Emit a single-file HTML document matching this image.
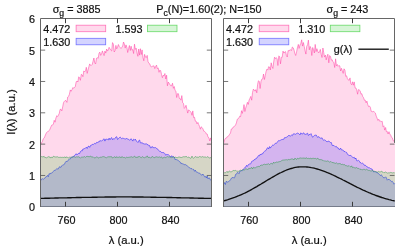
<!DOCTYPE html>
<html lang="en"><head><meta charset="utf-8"><title>I(λ) spectra</title>
<style>
html,body{margin:0;padding:0;background:#fff}
body{width:415px;height:249px;overflow:hidden}
svg{display:block;will-change:transform}
svg text{font-family:"Liberation Sans","DejaVu Sans",sans-serif;stroke:#1a1a1a;stroke-width:0.22px;paint-order:stroke fill}
</style></head><body>
<svg width="415" height="249" viewBox="0 0 415 249" font-family='Liberation Sans, DejaVu Sans, sans-serif' font-size="10.8" fill="#111">
<rect width="415" height="249" fill="#fff"/>
<path d="M40.0 206.5H212.0" stroke="#8c8c8c" stroke-width="1" fill="none"/>
<polygon points="41.0,207.0 41.0,144.5 40.7,144.5 41.5,142.8 42.4,141.5 43.2,138.9 44.1,138.2 44.9,136.3 45.8,134.1 46.6,132.6 47.5,131.7 48.3,131.5 49.1,130.5 50.0,129.2 50.8,127.1 51.7,125.2 52.5,125.1 53.4,124.0 54.2,120.3 55.1,122.2 55.9,118.1 56.8,115.7 57.6,116.5 58.4,115.3 59.3,113.3 60.1,109.4 61.0,109.3 61.8,110.9 62.7,106.9 63.5,102.7 64.4,101.3 65.2,100.5 66.0,100.7 66.9,102.4 67.7,97.0 68.6,96.3 69.4,94.3 70.3,89.9 71.1,91.3 72.0,89.7 72.8,87.6 73.7,88.1 74.5,87.6 75.3,86.5 76.2,81.7 77.0,81.0 77.9,82.0 78.7,76.8 79.6,77.8 80.4,80.3 81.3,74.3 82.1,74.9 82.9,76.7 83.8,70.9 84.6,71.9 85.5,70.9 86.3,67.3 87.2,73.4 88.0,70.0 88.9,66.7 89.7,63.9 90.6,65.4 91.4,65.3 92.2,64.5 93.1,61.1 93.9,58.0 94.8,63.0 95.6,64.0 96.5,58.2 97.3,57.7 98.2,58.4 99.0,53.4 99.8,52.1 100.7,55.4 101.5,54.1 102.4,50.9 103.2,53.2 104.1,55.6 104.9,51.1 105.8,53.1 106.6,49.0 107.5,51.1 108.3,49.8 109.1,47.3 110.0,48.9 110.8,50.2 111.7,51.0 112.5,42.6 113.4,44.2 114.2,52.0 115.1,50.5 115.9,45.4 116.7,48.9 117.6,47.0 118.4,44.5 119.3,46.6 120.1,47.4 121.0,48.5 121.8,47.4 122.7,46.0 123.5,42.0 124.4,44.1 125.2,48.1 126.0,44.9 126.9,47.5 127.7,52.5 128.6,48.6 129.4,45.5 130.3,50.5 131.1,46.2 132.0,50.2 132.8,49.6 133.6,53.5 134.5,44.2 135.3,49.4 136.2,48.2 137.0,52.9 137.9,56.3 138.7,49.0 139.6,55.1 140.4,48.7 141.3,54.5 142.1,49.9 142.9,57.3 143.8,60.8 144.6,54.4 145.5,57.2 146.3,57.7 147.2,55.4 148.0,61.5 148.9,63.4 149.7,63.8 150.5,65.9 151.4,67.0 152.2,66.3 153.1,66.3 153.9,65.7 154.8,68.6 155.6,66.6 156.5,65.1 157.3,68.6 158.2,67.9 159.0,72.3 159.8,70.1 160.7,70.7 161.5,74.5 162.4,77.7 163.2,75.3 164.1,75.9 164.9,73.5 165.8,79.0 166.6,75.2 167.4,85.8 168.3,82.0 169.1,83.5 170.0,84.4 170.8,85.8 171.7,85.8 172.5,83.2 173.4,88.3 174.2,86.5 175.1,90.5 175.9,91.2 176.7,97.5 177.6,93.6 178.4,93.7 179.3,98.4 180.1,98.5 181.0,100.2 181.8,95.6 182.7,102.8 183.5,103.5 184.3,108.4 185.2,107.4 186.0,105.3 186.9,109.2 187.7,113.1 188.6,109.9 189.4,110.4 190.3,111.4 191.1,112.4 192.0,115.3 192.8,110.9 193.6,117.6 194.5,117.2 195.3,121.1 196.2,121.3 197.0,123.9 197.9,122.4 198.7,124.5 199.6,126.6 200.4,129.2 201.2,126.8 202.1,127.6 202.9,128.8 203.8,131.2 204.6,131.4 205.5,132.3 206.3,133.9 207.2,134.0 208.0,137.1 208.9,137.8 209.7,140.9 210.5,137.9 211.7,142.6 211.0,142.6 211.0,207.0" fill="rgb(255,65,160)" fill-opacity="0.20"/>
<polyline points="40.7,144.5 41.5,142.8 42.4,141.5 43.2,138.9 44.1,138.2 44.9,136.3 45.8,134.1 46.6,132.6 47.5,131.7 48.3,131.5 49.1,130.5 50.0,129.2 50.8,127.1 51.7,125.2 52.5,125.1 53.4,124.0 54.2,120.3 55.1,122.2 55.9,118.1 56.8,115.7 57.6,116.5 58.4,115.3 59.3,113.3 60.1,109.4 61.0,109.3 61.8,110.9 62.7,106.9 63.5,102.7 64.4,101.3 65.2,100.5 66.0,100.7 66.9,102.4 67.7,97.0 68.6,96.3 69.4,94.3 70.3,89.9 71.1,91.3 72.0,89.7 72.8,87.6 73.7,88.1 74.5,87.6 75.3,86.5 76.2,81.7 77.0,81.0 77.9,82.0 78.7,76.8 79.6,77.8 80.4,80.3 81.3,74.3 82.1,74.9 82.9,76.7 83.8,70.9 84.6,71.9 85.5,70.9 86.3,67.3 87.2,73.4 88.0,70.0 88.9,66.7 89.7,63.9 90.6,65.4 91.4,65.3 92.2,64.5 93.1,61.1 93.9,58.0 94.8,63.0 95.6,64.0 96.5,58.2 97.3,57.7 98.2,58.4 99.0,53.4 99.8,52.1 100.7,55.4 101.5,54.1 102.4,50.9 103.2,53.2 104.1,55.6 104.9,51.1 105.8,53.1 106.6,49.0 107.5,51.1 108.3,49.8 109.1,47.3 110.0,48.9 110.8,50.2 111.7,51.0 112.5,42.6 113.4,44.2 114.2,52.0 115.1,50.5 115.9,45.4 116.7,48.9 117.6,47.0 118.4,44.5 119.3,46.6 120.1,47.4 121.0,48.5 121.8,47.4 122.7,46.0 123.5,42.0 124.4,44.1 125.2,48.1 126.0,44.9 126.9,47.5 127.7,52.5 128.6,48.6 129.4,45.5 130.3,50.5 131.1,46.2 132.0,50.2 132.8,49.6 133.6,53.5 134.5,44.2 135.3,49.4 136.2,48.2 137.0,52.9 137.9,56.3 138.7,49.0 139.6,55.1 140.4,48.7 141.3,54.5 142.1,49.9 142.9,57.3 143.8,60.8 144.6,54.4 145.5,57.2 146.3,57.7 147.2,55.4 148.0,61.5 148.9,63.4 149.7,63.8 150.5,65.9 151.4,67.0 152.2,66.3 153.1,66.3 153.9,65.7 154.8,68.6 155.6,66.6 156.5,65.1 157.3,68.6 158.2,67.9 159.0,72.3 159.8,70.1 160.7,70.7 161.5,74.5 162.4,77.7 163.2,75.3 164.1,75.9 164.9,73.5 165.8,79.0 166.6,75.2 167.4,85.8 168.3,82.0 169.1,83.5 170.0,84.4 170.8,85.8 171.7,85.8 172.5,83.2 173.4,88.3 174.2,86.5 175.1,90.5 175.9,91.2 176.7,97.5 177.6,93.6 178.4,93.7 179.3,98.4 180.1,98.5 181.0,100.2 181.8,95.6 182.7,102.8 183.5,103.5 184.3,108.4 185.2,107.4 186.0,105.3 186.9,109.2 187.7,113.1 188.6,109.9 189.4,110.4 190.3,111.4 191.1,112.4 192.0,115.3 192.8,110.9 193.6,117.6 194.5,117.2 195.3,121.1 196.2,121.3 197.0,123.9 197.9,122.4 198.7,124.5 199.6,126.6 200.4,129.2 201.2,126.8 202.1,127.6 202.9,128.8 203.8,131.2 204.6,131.4 205.5,132.3 206.3,133.9 207.2,134.0 208.0,137.1 208.9,137.8 209.7,140.9 210.5,137.9 211.7,142.6" fill="none" stroke="rgb(255,70,165)" stroke-width="0.55" stroke-linejoin="miter"/>
<polygon points="41.0,207.0 41.0,180.7 40.7,180.7 41.5,179.1 42.4,178.7 43.2,179.4 44.1,178.6 44.9,178.2 45.8,176.8 46.6,176.6 47.5,175.4 48.3,176.8 49.1,173.6 50.0,174.2 50.8,173.0 51.7,173.0 52.5,172.5 53.4,171.3 54.2,170.3 55.1,170.5 55.9,169.8 56.8,168.5 57.6,169.0 58.4,168.9 59.3,166.8 60.1,167.0 61.0,167.3 61.8,165.8 62.7,164.9 63.5,164.8 64.4,164.3 65.2,162.6 66.0,161.3 66.9,161.5 67.7,161.2 68.6,159.7 69.4,158.9 70.3,159.0 71.1,157.7 72.0,156.7 72.8,157.1 73.7,156.9 74.5,155.4 75.3,154.9 76.2,153.7 77.0,154.9 77.9,153.8 78.7,153.4 79.6,153.5 80.4,151.5 81.3,150.7 82.1,151.1 82.9,149.0 83.8,148.9 84.6,148.5 85.5,148.2 86.3,147.2 87.2,148.5 88.0,146.5 88.9,146.1 89.7,147.4 90.6,145.4 91.4,145.4 92.2,144.2 93.1,144.7 93.9,144.0 94.8,143.3 95.6,143.9 96.5,142.4 97.3,142.6 98.2,141.8 99.0,142.2 99.8,140.7 100.7,140.8 101.5,141.1 102.4,140.2 103.2,139.5 104.1,138.8 104.9,141.1 105.8,139.1 106.6,139.2 107.5,139.4 108.3,139.9 109.1,138.1 110.0,139.8 110.8,138.3 111.7,137.6 112.5,139.7 113.4,138.7 114.2,139.3 115.1,138.1 115.9,137.1 116.7,136.7 117.6,139.5 118.4,138.6 119.3,137.7 120.1,137.0 121.0,137.9 121.8,138.8 122.7,138.1 123.5,138.4 124.4,138.7 125.2,139.2 126.0,138.4 126.9,138.6 127.7,139.0 128.6,139.3 129.4,140.2 130.3,139.8 131.1,138.7 132.0,140.0 132.8,141.1 133.6,139.2 134.5,140.0 135.3,139.1 136.2,140.9 137.0,141.5 137.9,142.5 138.7,140.7 139.6,140.0 140.4,142.9 141.3,143.0 142.1,142.4 142.9,143.8 143.8,143.7 144.6,144.0 145.5,144.0 146.3,143.6 147.2,144.8 148.0,144.5 148.9,145.8 149.7,145.6 150.5,147.9 151.4,147.7 152.2,146.4 153.1,147.9 153.9,147.4 154.8,147.8 155.6,147.6 156.5,148.4 157.3,148.7 158.2,150.0 159.0,150.8 159.8,151.3 160.7,151.5 161.5,152.5 162.4,152.5 163.2,152.6 164.1,152.8 164.9,153.7 165.8,155.3 166.6,154.4 167.4,154.6 168.3,154.5 169.1,155.3 170.0,156.7 170.8,157.2 171.7,155.7 172.5,157.1 173.4,156.8 174.2,157.0 175.1,159.7 175.9,159.3 176.7,159.7 177.6,160.1 178.4,160.6 179.3,161.4 180.1,161.9 181.0,163.7 181.8,163.1 182.7,164.1 183.5,163.9 184.3,164.8 185.2,164.5 186.0,164.9 186.9,165.7 187.7,166.2 188.6,166.9 189.4,167.8 190.3,168.0 191.1,168.8 192.0,168.6 192.8,169.4 193.6,169.4 194.5,171.3 195.3,170.1 196.2,171.9 197.0,172.3 197.9,172.4 198.7,173.1 199.6,173.0 200.4,174.1 201.2,174.9 202.1,175.2 202.9,174.0 203.8,175.5 204.6,176.8 205.5,176.4 206.3,178.0 207.2,175.9 208.0,178.9 208.9,177.8 209.7,178.2 210.5,180.1 211.7,179.4 211.0,179.4 211.0,207.0" fill="rgb(0,0,255)" fill-opacity="0.17"/>
<polyline points="40.7,180.7 41.5,179.1 42.4,178.7 43.2,179.4 44.1,178.6 44.9,178.2 45.8,176.8 46.6,176.6 47.5,175.4 48.3,176.8 49.1,173.6 50.0,174.2 50.8,173.0 51.7,173.0 52.5,172.5 53.4,171.3 54.2,170.3 55.1,170.5 55.9,169.8 56.8,168.5 57.6,169.0 58.4,168.9 59.3,166.8 60.1,167.0 61.0,167.3 61.8,165.8 62.7,164.9 63.5,164.8 64.4,164.3 65.2,162.6 66.0,161.3 66.9,161.5 67.7,161.2 68.6,159.7 69.4,158.9 70.3,159.0 71.1,157.7 72.0,156.7 72.8,157.1 73.7,156.9 74.5,155.4 75.3,154.9 76.2,153.7 77.0,154.9 77.9,153.8 78.7,153.4 79.6,153.5 80.4,151.5 81.3,150.7 82.1,151.1 82.9,149.0 83.8,148.9 84.6,148.5 85.5,148.2 86.3,147.2 87.2,148.5 88.0,146.5 88.9,146.1 89.7,147.4 90.6,145.4 91.4,145.4 92.2,144.2 93.1,144.7 93.9,144.0 94.8,143.3 95.6,143.9 96.5,142.4 97.3,142.6 98.2,141.8 99.0,142.2 99.8,140.7 100.7,140.8 101.5,141.1 102.4,140.2 103.2,139.5 104.1,138.8 104.9,141.1 105.8,139.1 106.6,139.2 107.5,139.4 108.3,139.9 109.1,138.1 110.0,139.8 110.8,138.3 111.7,137.6 112.5,139.7 113.4,138.7 114.2,139.3 115.1,138.1 115.9,137.1 116.7,136.7 117.6,139.5 118.4,138.6 119.3,137.7 120.1,137.0 121.0,137.9 121.8,138.8 122.7,138.1 123.5,138.4 124.4,138.7 125.2,139.2 126.0,138.4 126.9,138.6 127.7,139.0 128.6,139.3 129.4,140.2 130.3,139.8 131.1,138.7 132.0,140.0 132.8,141.1 133.6,139.2 134.5,140.0 135.3,139.1 136.2,140.9 137.0,141.5 137.9,142.5 138.7,140.7 139.6,140.0 140.4,142.9 141.3,143.0 142.1,142.4 142.9,143.8 143.8,143.7 144.6,144.0 145.5,144.0 146.3,143.6 147.2,144.8 148.0,144.5 148.9,145.8 149.7,145.6 150.5,147.9 151.4,147.7 152.2,146.4 153.1,147.9 153.9,147.4 154.8,147.8 155.6,147.6 156.5,148.4 157.3,148.7 158.2,150.0 159.0,150.8 159.8,151.3 160.7,151.5 161.5,152.5 162.4,152.5 163.2,152.6 164.1,152.8 164.9,153.7 165.8,155.3 166.6,154.4 167.4,154.6 168.3,154.5 169.1,155.3 170.0,156.7 170.8,157.2 171.7,155.7 172.5,157.1 173.4,156.8 174.2,157.0 175.1,159.7 175.9,159.3 176.7,159.7 177.6,160.1 178.4,160.6 179.3,161.4 180.1,161.9 181.0,163.7 181.8,163.1 182.7,164.1 183.5,163.9 184.3,164.8 185.2,164.5 186.0,164.9 186.9,165.7 187.7,166.2 188.6,166.9 189.4,167.8 190.3,168.0 191.1,168.8 192.0,168.6 192.8,169.4 193.6,169.4 194.5,171.3 195.3,170.1 196.2,171.9 197.0,172.3 197.9,172.4 198.7,173.1 199.6,173.0 200.4,174.1 201.2,174.9 202.1,175.2 202.9,174.0 203.8,175.5 204.6,176.8 205.5,176.4 206.3,178.0 207.2,175.9 208.0,178.9 208.9,177.8 209.7,178.2 210.5,180.1 211.7,179.4" fill="none" stroke="rgb(30,30,255)" stroke-width="0.55" stroke-linejoin="miter"/>
<polygon points="41.0,207.0 41.0,157.1 40.7,157.1 41.5,156.6 42.4,156.8 43.2,156.8 44.1,156.3 44.9,157.7 45.8,157.5 46.6,157.8 47.5,157.2 48.3,156.6 49.1,157.1 50.0,156.9 50.8,158.1 51.7,157.1 52.5,157.6 53.4,156.2 54.2,156.7 55.1,156.7 55.9,157.2 56.8,156.8 57.6,156.8 58.4,157.3 59.3,157.4 60.1,157.2 61.0,157.4 61.8,157.4 62.7,157.3 63.5,157.5 64.4,156.8 65.2,157.9 66.0,156.7 66.9,157.5 67.7,157.4 68.6,157.8 69.4,157.2 70.3,157.3 71.1,157.0 72.0,157.4 72.8,157.1 73.7,156.2 74.5,156.9 75.3,157.4 76.2,156.7 77.0,157.2 77.9,156.8 78.7,156.8 79.6,157.3 80.4,158.1 81.3,157.3 82.1,156.9 82.9,157.3 83.8,156.9 84.6,156.6 85.5,157.4 86.3,156.5 87.2,156.3 88.0,156.6 88.9,156.6 89.7,156.6 90.6,156.0 91.4,157.0 92.2,157.1 93.1,156.8 93.9,157.6 94.8,157.9 95.6,157.6 96.5,156.9 97.3,156.9 98.2,157.9 99.0,158.1 99.8,157.3 100.7,157.2 101.5,157.2 102.4,156.8 103.2,156.5 104.1,157.0 104.9,156.8 105.8,157.7 106.6,157.7 107.5,157.0 108.3,156.8 109.1,156.8 110.0,156.8 110.8,156.7 111.7,156.7 112.5,158.0 113.4,157.5 114.2,156.9 115.1,156.8 115.9,157.9 116.7,156.5 117.6,157.4 118.4,157.3 119.3,157.0 120.1,156.8 121.0,157.9 121.8,156.6 122.7,157.1 123.5,157.5 124.4,157.3 125.2,158.2 126.0,157.5 126.9,157.0 127.7,157.5 128.6,157.3 129.4,157.2 130.3,157.1 131.1,156.6 132.0,157.1 132.8,157.3 133.6,156.9 134.5,156.1 135.3,157.3 136.2,156.9 137.0,157.9 137.9,156.5 138.7,156.8 139.6,156.5 140.4,157.2 141.3,157.7 142.1,156.7 142.9,156.8 143.8,157.6 144.6,157.9 145.5,156.9 146.3,157.2 147.2,155.8 148.0,157.4 148.9,157.4 149.7,157.2 150.5,158.0 151.4,157.6 152.2,156.3 153.1,157.2 153.9,157.4 154.8,157.8 155.6,156.8 156.5,156.8 157.3,157.0 158.2,157.3 159.0,157.0 159.8,156.9 160.7,157.5 161.5,156.8 162.4,158.2 163.2,157.8 164.1,157.3 164.9,157.2 165.8,157.7 166.6,157.0 167.4,156.6 168.3,156.9 169.1,157.0 170.0,156.7 170.8,156.9 171.7,157.7 172.5,157.2 173.4,156.5 174.2,157.7 175.1,157.1 175.9,157.3 176.7,157.6 177.6,157.6 178.4,157.1 179.3,157.0 180.1,157.0 181.0,157.9 181.8,157.3 182.7,157.0 183.5,156.7 184.3,156.8 185.2,156.7 186.0,156.6 186.9,156.7 187.7,157.5 188.6,157.1 189.4,157.5 190.3,158.3 191.1,158.0 192.0,156.1 192.8,157.7 193.6,158.3 194.5,157.4 195.3,156.4 196.2,157.2 197.0,156.9 197.9,157.3 198.7,157.2 199.6,156.5 200.4,156.7 201.2,157.2 202.1,156.7 202.9,156.6 203.8,157.2 204.6,157.0 205.5,157.0 206.3,157.5 207.2,156.6 208.0,157.2 208.9,157.4 209.7,158.0 210.5,157.8 211.7,156.4 211.0,156.4 211.0,207.0" fill="rgb(50,205,50)" fill-opacity="0.20"/>
<polyline points="40.7,157.1 41.5,156.6 42.4,156.8 43.2,156.8 44.1,156.3 44.9,157.7 45.8,157.5 46.6,157.8 47.5,157.2 48.3,156.6 49.1,157.1 50.0,156.9 50.8,158.1 51.7,157.1 52.5,157.6 53.4,156.2 54.2,156.7 55.1,156.7 55.9,157.2 56.8,156.8 57.6,156.8 58.4,157.3 59.3,157.4 60.1,157.2 61.0,157.4 61.8,157.4 62.7,157.3 63.5,157.5 64.4,156.8 65.2,157.9 66.0,156.7 66.9,157.5 67.7,157.4 68.6,157.8 69.4,157.2 70.3,157.3 71.1,157.0 72.0,157.4 72.8,157.1 73.7,156.2 74.5,156.9 75.3,157.4 76.2,156.7 77.0,157.2 77.9,156.8 78.7,156.8 79.6,157.3 80.4,158.1 81.3,157.3 82.1,156.9 82.9,157.3 83.8,156.9 84.6,156.6 85.5,157.4 86.3,156.5 87.2,156.3 88.0,156.6 88.9,156.6 89.7,156.6 90.6,156.0 91.4,157.0 92.2,157.1 93.1,156.8 93.9,157.6 94.8,157.9 95.6,157.6 96.5,156.9 97.3,156.9 98.2,157.9 99.0,158.1 99.8,157.3 100.7,157.2 101.5,157.2 102.4,156.8 103.2,156.5 104.1,157.0 104.9,156.8 105.8,157.7 106.6,157.7 107.5,157.0 108.3,156.8 109.1,156.8 110.0,156.8 110.8,156.7 111.7,156.7 112.5,158.0 113.4,157.5 114.2,156.9 115.1,156.8 115.9,157.9 116.7,156.5 117.6,157.4 118.4,157.3 119.3,157.0 120.1,156.8 121.0,157.9 121.8,156.6 122.7,157.1 123.5,157.5 124.4,157.3 125.2,158.2 126.0,157.5 126.9,157.0 127.7,157.5 128.6,157.3 129.4,157.2 130.3,157.1 131.1,156.6 132.0,157.1 132.8,157.3 133.6,156.9 134.5,156.1 135.3,157.3 136.2,156.9 137.0,157.9 137.9,156.5 138.7,156.8 139.6,156.5 140.4,157.2 141.3,157.7 142.1,156.7 142.9,156.8 143.8,157.6 144.6,157.9 145.5,156.9 146.3,157.2 147.2,155.8 148.0,157.4 148.9,157.4 149.7,157.2 150.5,158.0 151.4,157.6 152.2,156.3 153.1,157.2 153.9,157.4 154.8,157.8 155.6,156.8 156.5,156.8 157.3,157.0 158.2,157.3 159.0,157.0 159.8,156.9 160.7,157.5 161.5,156.8 162.4,158.2 163.2,157.8 164.1,157.3 164.9,157.2 165.8,157.7 166.6,157.0 167.4,156.6 168.3,156.9 169.1,157.0 170.0,156.7 170.8,156.9 171.7,157.7 172.5,157.2 173.4,156.5 174.2,157.7 175.1,157.1 175.9,157.3 176.7,157.6 177.6,157.6 178.4,157.1 179.3,157.0 180.1,157.0 181.0,157.9 181.8,157.3 182.7,157.0 183.5,156.7 184.3,156.8 185.2,156.7 186.0,156.6 186.9,156.7 187.7,157.5 188.6,157.1 189.4,157.5 190.3,158.3 191.1,158.0 192.0,156.1 192.8,157.7 193.6,158.3 194.5,157.4 195.3,156.4 196.2,157.2 197.0,156.9 197.9,157.3 198.7,157.2 199.6,156.5 200.4,156.7 201.2,157.2 202.1,156.7 202.9,156.6 203.8,157.2 204.6,157.0 205.5,157.0 206.3,157.5 207.2,156.6 208.0,157.2 208.9,157.4 209.7,158.0 210.5,157.8 211.7,156.4" fill="none" stroke="rgb(40,150,70)" stroke-width="0.50" stroke-linejoin="miter"/>
<polyline points="40.7,198.3 42.1,198.3 43.6,198.3 45.0,198.2 46.4,198.2 47.9,198.2 49.3,198.2 50.8,198.1 52.2,198.1 53.6,198.1 55.1,198.0 56.5,198.0 57.9,198.0 59.4,197.9 60.8,197.9 62.3,197.9 63.7,197.8 65.1,197.8 66.6,197.8 68.0,197.7 69.4,197.7 70.9,197.7 72.3,197.6 73.8,197.6 75.2,197.6 76.6,197.5 78.1,197.5 79.5,197.5 80.9,197.5 82.4,197.4 83.8,197.4 85.2,197.4 86.7,197.3 88.1,197.3 89.6,197.3 91.0,197.3 92.4,197.2 93.9,197.2 95.3,197.2 96.7,197.2 98.2,197.1 99.6,197.1 101.1,197.1 102.5,197.1 103.9,197.1 105.4,197.0 106.8,197.0 108.2,197.0 109.7,197.0 111.1,197.0 112.5,197.0 114.0,197.0 115.4,197.0 116.9,196.9 118.3,196.9 119.7,196.9 121.2,196.9 122.6,196.9 124.0,196.9 125.5,196.9 126.9,196.9 128.4,196.9 129.8,196.9 131.2,196.9 132.7,197.0 134.1,197.0 135.5,197.0 137.0,197.0 138.4,197.0 139.9,197.0 141.3,197.0 142.7,197.0 144.2,197.1 145.6,197.1 147.0,197.1 148.5,197.1 149.9,197.1 151.3,197.2 152.8,197.2 154.2,197.2 155.7,197.2 157.1,197.3 158.5,197.3 160.0,197.3 161.4,197.3 162.8,197.4 164.3,197.4 165.7,197.4 167.2,197.5 168.6,197.5 170.0,197.5 171.5,197.5 172.9,197.6 174.3,197.6 175.8,197.6 177.2,197.7 178.6,197.7 180.1,197.7 181.5,197.8 183.0,197.8 184.4,197.8 185.8,197.9 187.3,197.9 188.7,197.9 190.1,198.0 191.6,198.0 193.0,198.0 194.5,198.1 195.9,198.1 197.3,198.1 198.8,198.2 200.2,198.2 201.6,198.2 203.1,198.2 204.5,198.3 206.0,198.3 207.4,198.3 208.8,198.4 210.3,198.4 211.7,198.4" fill="none" stroke="#111" stroke-width="1.35"/>
<g stroke="#666" stroke-width="1" fill="none">
<path d="M40.5 207.0V18.5H211.5V207.0"/>
</g>
<g stroke="#555" stroke-width="0.8" fill="none">
<path d="M40.5 175.47h4.7M211.5 175.47h-4.7"/>
<path d="M40.5 144.13h4.7M211.5 144.13h-4.7"/>
<path d="M40.5 112.80h4.7M211.5 112.80h-4.7"/>
<path d="M40.5 81.47h4.7M211.5 81.47h-4.7"/>
<path d="M40.5 50.13h4.7M211.5 50.13h-4.7"/>
</g>
<g stroke="#3c3c3c" stroke-width="1" fill="none">
<path d="M65.5 18.5v4.7M65.5 206.5v-4.7"/>
<path d="M117.5 18.5v4.7M117.5 206.5v-4.7"/>
<path d="M169.5 18.5v4.7M169.5 206.5v-4.7"/>
</g>
<path d="M223.0 206.5H395.0" stroke="#8c8c8c" stroke-width="1" fill="none"/>
<polygon points="224.0,207.0 224.0,143.1 223.7,143.1 224.5,140.0 225.4,138.4 226.2,138.3 227.1,136.8 227.9,136.5 228.8,135.7 229.6,134.3 230.5,133.0 231.3,129.0 232.2,128.9 233.0,127.2 233.9,126.9 234.7,126.1 235.6,124.9 236.4,122.9 237.3,119.2 238.1,118.7 239.0,117.9 239.8,116.1 240.6,116.7 241.5,110.7 242.3,113.4 243.2,109.8 244.0,104.6 244.9,111.5 245.7,108.0 246.6,105.3 247.4,102.3 248.3,104.4 249.1,100.1 250.0,98.2 250.8,96.4 251.7,100.2 252.5,92.5 253.4,89.1 254.2,90.1 255.1,91.2 255.9,89.6 256.8,92.8 257.6,84.5 258.4,80.8 259.3,81.4 260.1,88.5 261.0,81.3 261.8,79.2 262.7,78.9 263.5,74.0 264.4,79.5 265.2,75.8 266.1,71.4 266.9,69.2 267.8,70.1 268.6,66.7 269.5,67.0 270.3,70.0 271.2,62.8 272.0,66.5 272.9,68.5 273.7,62.0 274.5,57.2 275.4,58.6 276.2,57.6 277.1,58.9 277.9,65.5 278.8,55.9 279.6,56.6 280.5,63.8 281.3,57.4 282.2,57.3 283.0,51.1 283.9,53.1 284.7,52.0 285.6,51.6 286.4,55.6 287.3,57.0 288.1,50.5 289.0,51.1 289.8,49.9 290.6,49.9 291.5,50.5 292.3,47.0 293.2,47.8 294.0,50.0 294.9,53.6 295.7,55.5 296.6,51.9 297.4,47.8 298.3,44.4 299.1,48.4 300.0,45.0 300.8,43.5 301.7,39.8 302.5,46.1 303.4,42.5 304.2,46.4 305.1,50.9 305.9,54.1 306.7,46.4 307.6,44.7 308.4,40.1 309.3,49.8 310.1,46.4 311.0,48.5 311.8,55.5 312.7,47.5 313.5,49.8 314.4,53.0 315.2,44.4 316.1,51.6 316.9,48.7 317.8,51.3 318.6,53.0 319.5,51.8 320.3,49.4 321.2,54.3 322.0,57.5 322.9,48.0 323.7,52.5 324.5,57.1 325.4,55.1 326.2,59.9 327.1,56.2 327.9,54.2 328.8,62.8 329.6,55.6 330.5,56.4 331.3,60.1 332.2,59.8 333.0,61.8 333.9,62.8 334.7,67.5 335.6,58.8 336.4,65.8 337.3,64.5 338.1,66.3 339.0,65.4 339.8,66.0 340.6,71.0 341.5,68.3 342.3,70.9 343.2,73.4 344.0,68.8 344.9,70.1 345.7,76.3 346.6,75.8 347.4,78.6 348.3,79.9 349.1,80.5 350.0,77.9 350.8,83.6 351.7,84.8 352.5,81.8 353.4,85.2 354.2,81.9 355.1,87.9 355.9,88.0 356.7,89.8 357.6,94.2 358.4,89.6 359.3,90.0 360.1,90.7 361.0,94.2 361.8,93.7 362.7,96.5 363.5,97.6 364.4,100.2 365.2,100.1 366.1,102.8 366.9,101.1 367.8,104.7 368.6,106.6 369.5,106.1 370.3,107.2 371.2,111.3 372.0,111.4 372.8,111.8 373.7,111.3 374.5,112.3 375.4,113.1 376.2,116.1 377.1,118.2 377.9,120.4 378.8,119.2 379.6,121.2 380.5,121.1 381.3,121.5 382.2,121.3 383.0,126.7 383.9,125.8 384.7,130.1 385.6,127.5 386.4,131.8 387.3,131.5 388.1,134.0 389.0,131.7 389.8,134.1 390.6,134.9 391.5,137.3 392.3,137.8 393.2,140.7 394.0,141.1 394.7,139.9 395.0,139.9 395.0,207.0" fill="rgb(255,65,160)" fill-opacity="0.20"/>
<polyline points="223.7,143.1 224.5,140.0 225.4,138.4 226.2,138.3 227.1,136.8 227.9,136.5 228.8,135.7 229.6,134.3 230.5,133.0 231.3,129.0 232.2,128.9 233.0,127.2 233.9,126.9 234.7,126.1 235.6,124.9 236.4,122.9 237.3,119.2 238.1,118.7 239.0,117.9 239.8,116.1 240.6,116.7 241.5,110.7 242.3,113.4 243.2,109.8 244.0,104.6 244.9,111.5 245.7,108.0 246.6,105.3 247.4,102.3 248.3,104.4 249.1,100.1 250.0,98.2 250.8,96.4 251.7,100.2 252.5,92.5 253.4,89.1 254.2,90.1 255.1,91.2 255.9,89.6 256.8,92.8 257.6,84.5 258.4,80.8 259.3,81.4 260.1,88.5 261.0,81.3 261.8,79.2 262.7,78.9 263.5,74.0 264.4,79.5 265.2,75.8 266.1,71.4 266.9,69.2 267.8,70.1 268.6,66.7 269.5,67.0 270.3,70.0 271.2,62.8 272.0,66.5 272.9,68.5 273.7,62.0 274.5,57.2 275.4,58.6 276.2,57.6 277.1,58.9 277.9,65.5 278.8,55.9 279.6,56.6 280.5,63.8 281.3,57.4 282.2,57.3 283.0,51.1 283.9,53.1 284.7,52.0 285.6,51.6 286.4,55.6 287.3,57.0 288.1,50.5 289.0,51.1 289.8,49.9 290.6,49.9 291.5,50.5 292.3,47.0 293.2,47.8 294.0,50.0 294.9,53.6 295.7,55.5 296.6,51.9 297.4,47.8 298.3,44.4 299.1,48.4 300.0,45.0 300.8,43.5 301.7,39.8 302.5,46.1 303.4,42.5 304.2,46.4 305.1,50.9 305.9,54.1 306.7,46.4 307.6,44.7 308.4,40.1 309.3,49.8 310.1,46.4 311.0,48.5 311.8,55.5 312.7,47.5 313.5,49.8 314.4,53.0 315.2,44.4 316.1,51.6 316.9,48.7 317.8,51.3 318.6,53.0 319.5,51.8 320.3,49.4 321.2,54.3 322.0,57.5 322.9,48.0 323.7,52.5 324.5,57.1 325.4,55.1 326.2,59.9 327.1,56.2 327.9,54.2 328.8,62.8 329.6,55.6 330.5,56.4 331.3,60.1 332.2,59.8 333.0,61.8 333.9,62.8 334.7,67.5 335.6,58.8 336.4,65.8 337.3,64.5 338.1,66.3 339.0,65.4 339.8,66.0 340.6,71.0 341.5,68.3 342.3,70.9 343.2,73.4 344.0,68.8 344.9,70.1 345.7,76.3 346.6,75.8 347.4,78.6 348.3,79.9 349.1,80.5 350.0,77.9 350.8,83.6 351.7,84.8 352.5,81.8 353.4,85.2 354.2,81.9 355.1,87.9 355.9,88.0 356.7,89.8 357.6,94.2 358.4,89.6 359.3,90.0 360.1,90.7 361.0,94.2 361.8,93.7 362.7,96.5 363.5,97.6 364.4,100.2 365.2,100.1 366.1,102.8 366.9,101.1 367.8,104.7 368.6,106.6 369.5,106.1 370.3,107.2 371.2,111.3 372.0,111.4 372.8,111.8 373.7,111.3 374.5,112.3 375.4,113.1 376.2,116.1 377.1,118.2 377.9,120.4 378.8,119.2 379.6,121.2 380.5,121.1 381.3,121.5 382.2,121.3 383.0,126.7 383.9,125.8 384.7,130.1 385.6,127.5 386.4,131.8 387.3,131.5 388.1,134.0 389.0,131.7 389.8,134.1 390.6,134.9 391.5,137.3 392.3,137.8 393.2,140.7 394.0,141.1 394.7,139.9" fill="none" stroke="rgb(255,70,165)" stroke-width="0.55" stroke-linejoin="miter"/>
<polygon points="224.0,207.0 224.0,184.0 223.7,184.0 224.5,182.6 225.4,184.5 226.2,181.3 227.1,182.0 227.9,182.0 228.8,181.4 229.6,180.9 230.5,179.7 231.3,178.2 232.2,177.8 233.0,177.1 233.9,178.2 234.7,177.5 235.6,174.4 236.4,174.2 237.3,172.6 238.1,172.7 239.0,173.7 239.8,171.2 240.6,171.0 241.5,170.6 242.3,170.7 243.2,169.4 244.0,168.8 244.9,167.3 245.7,167.1 246.6,165.3 247.4,166.4 248.3,164.7 249.1,163.9 250.0,164.2 250.8,163.7 251.7,161.4 252.5,161.0 253.4,160.8 254.2,159.6 255.1,159.7 255.9,158.3 256.8,158.2 257.6,156.9 258.4,155.6 259.3,155.9 260.1,154.3 261.0,155.0 261.8,153.7 262.7,153.8 263.5,152.2 264.4,151.4 265.2,150.9 266.1,150.3 266.9,148.4 267.8,147.7 268.6,149.0 269.5,146.6 270.3,148.1 271.2,146.8 272.0,145.7 272.9,144.9 273.7,145.2 274.5,144.4 275.4,143.2 276.2,143.3 277.1,142.7 277.9,141.2 278.8,140.5 279.6,140.7 280.5,140.2 281.3,139.7 282.2,139.6 283.0,139.2 283.9,139.2 284.7,137.5 285.6,137.6 286.4,137.3 287.3,136.7 288.1,136.1 289.0,135.1 289.8,136.1 290.6,135.9 291.5,135.1 292.3,135.7 293.2,133.9 294.0,133.9 294.9,133.9 295.7,134.3 296.6,133.5 297.4,133.1 298.3,133.4 299.1,133.9 300.0,134.9 300.8,132.8 301.7,133.8 302.5,134.1 303.4,132.8 304.2,133.3 305.1,134.7 305.9,133.8 306.7,134.0 307.6,133.2 308.4,135.5 309.3,134.5 310.1,134.6 311.0,133.6 311.8,135.7 312.7,137.3 313.5,136.4 314.4,135.4 315.2,135.3 316.1,134.9 316.9,136.2 317.8,137.5 318.6,136.5 319.5,137.6 320.3,138.1 321.2,138.3 322.0,137.7 322.9,139.7 323.7,140.2 324.5,139.9 325.4,140.3 326.2,141.3 327.1,141.8 327.9,141.3 328.8,141.0 329.6,142.0 330.5,142.5 331.3,142.5 332.2,145.4 333.0,145.6 333.9,145.4 334.7,146.3 335.6,146.7 336.4,146.4 337.3,147.9 338.1,147.8 339.0,149.5 339.8,149.3 340.6,148.1 341.5,150.0 342.3,149.9 343.2,150.2 344.0,151.6 344.9,151.4 345.7,152.2 346.6,152.4 347.4,154.0 348.3,155.1 349.1,155.4 350.0,155.6 350.8,155.3 351.7,156.5 352.5,157.2 353.4,157.6 354.2,157.2 355.1,159.0 355.9,158.0 356.7,160.7 357.6,160.8 358.4,160.2 359.3,161.1 360.1,162.7 361.0,162.7 361.8,163.7 362.7,163.1 363.5,163.9 364.4,165.4 365.2,165.1 366.1,166.2 366.9,166.6 367.8,167.0 368.6,168.0 369.5,167.8 370.3,168.4 371.2,168.9 372.0,168.9 372.8,170.5 373.7,172.0 374.5,171.7 375.4,171.8 376.2,172.4 377.1,172.5 377.9,172.9 378.8,174.1 379.6,174.6 380.5,175.7 381.3,174.7 382.2,176.2 383.0,177.3 383.9,177.8 384.7,177.8 385.6,176.8 386.4,177.8 387.3,180.2 388.1,179.4 389.0,179.6 389.8,179.8 390.6,180.5 391.5,181.7 392.3,181.3 393.2,182.5 394.0,184.2 394.7,183.4 395.0,183.4 395.0,207.0" fill="rgb(0,0,255)" fill-opacity="0.17"/>
<polyline points="223.7,184.0 224.5,182.6 225.4,184.5 226.2,181.3 227.1,182.0 227.9,182.0 228.8,181.4 229.6,180.9 230.5,179.7 231.3,178.2 232.2,177.8 233.0,177.1 233.9,178.2 234.7,177.5 235.6,174.4 236.4,174.2 237.3,172.6 238.1,172.7 239.0,173.7 239.8,171.2 240.6,171.0 241.5,170.6 242.3,170.7 243.2,169.4 244.0,168.8 244.9,167.3 245.7,167.1 246.6,165.3 247.4,166.4 248.3,164.7 249.1,163.9 250.0,164.2 250.8,163.7 251.7,161.4 252.5,161.0 253.4,160.8 254.2,159.6 255.1,159.7 255.9,158.3 256.8,158.2 257.6,156.9 258.4,155.6 259.3,155.9 260.1,154.3 261.0,155.0 261.8,153.7 262.7,153.8 263.5,152.2 264.4,151.4 265.2,150.9 266.1,150.3 266.9,148.4 267.8,147.7 268.6,149.0 269.5,146.6 270.3,148.1 271.2,146.8 272.0,145.7 272.9,144.9 273.7,145.2 274.5,144.4 275.4,143.2 276.2,143.3 277.1,142.7 277.9,141.2 278.8,140.5 279.6,140.7 280.5,140.2 281.3,139.7 282.2,139.6 283.0,139.2 283.9,139.2 284.7,137.5 285.6,137.6 286.4,137.3 287.3,136.7 288.1,136.1 289.0,135.1 289.8,136.1 290.6,135.9 291.5,135.1 292.3,135.7 293.2,133.9 294.0,133.9 294.9,133.9 295.7,134.3 296.6,133.5 297.4,133.1 298.3,133.4 299.1,133.9 300.0,134.9 300.8,132.8 301.7,133.8 302.5,134.1 303.4,132.8 304.2,133.3 305.1,134.7 305.9,133.8 306.7,134.0 307.6,133.2 308.4,135.5 309.3,134.5 310.1,134.6 311.0,133.6 311.8,135.7 312.7,137.3 313.5,136.4 314.4,135.4 315.2,135.3 316.1,134.9 316.9,136.2 317.8,137.5 318.6,136.5 319.5,137.6 320.3,138.1 321.2,138.3 322.0,137.7 322.9,139.7 323.7,140.2 324.5,139.9 325.4,140.3 326.2,141.3 327.1,141.8 327.9,141.3 328.8,141.0 329.6,142.0 330.5,142.5 331.3,142.5 332.2,145.4 333.0,145.6 333.9,145.4 334.7,146.3 335.6,146.7 336.4,146.4 337.3,147.9 338.1,147.8 339.0,149.5 339.8,149.3 340.6,148.1 341.5,150.0 342.3,149.9 343.2,150.2 344.0,151.6 344.9,151.4 345.7,152.2 346.6,152.4 347.4,154.0 348.3,155.1 349.1,155.4 350.0,155.6 350.8,155.3 351.7,156.5 352.5,157.2 353.4,157.6 354.2,157.2 355.1,159.0 355.9,158.0 356.7,160.7 357.6,160.8 358.4,160.2 359.3,161.1 360.1,162.7 361.0,162.7 361.8,163.7 362.7,163.1 363.5,163.9 364.4,165.4 365.2,165.1 366.1,166.2 366.9,166.6 367.8,167.0 368.6,168.0 369.5,167.8 370.3,168.4 371.2,168.9 372.0,168.9 372.8,170.5 373.7,172.0 374.5,171.7 375.4,171.8 376.2,172.4 377.1,172.5 377.9,172.9 378.8,174.1 379.6,174.6 380.5,175.7 381.3,174.7 382.2,176.2 383.0,177.3 383.9,177.8 384.7,177.8 385.6,176.8 386.4,177.8 387.3,180.2 388.1,179.4 389.0,179.6 389.8,179.8 390.6,180.5 391.5,181.7 392.3,181.3 393.2,182.5 394.0,184.2 394.7,183.4" fill="none" stroke="rgb(30,30,255)" stroke-width="0.55" stroke-linejoin="miter"/>
<polygon points="224.0,207.0 224.0,172.9 223.7,172.9 224.5,172.7 225.4,172.7 226.2,172.3 227.1,171.3 227.9,172.6 228.8,171.4 229.6,171.1 230.5,171.8 231.3,171.8 232.2,171.2 233.0,170.8 233.9,170.3 234.7,170.7 235.6,170.3 236.4,171.1 237.3,171.1 238.1,171.4 239.0,171.0 239.8,170.5 240.6,170.2 241.5,170.7 242.3,169.6 243.2,169.9 244.0,169.9 244.9,169.9 245.7,168.5 246.6,169.1 247.4,169.4 248.3,169.3 249.1,167.9 250.0,168.8 250.8,167.8 251.7,167.5 252.5,169.0 253.4,167.2 254.2,167.7 255.1,167.9 255.9,167.5 256.8,166.8 257.6,166.7 258.4,166.4 259.3,166.7 260.1,165.7 261.0,165.3 261.8,165.0 262.7,165.1 263.5,164.5 264.4,164.2 265.2,164.6 266.1,164.3 266.9,164.3 267.8,164.1 268.6,163.7 269.5,164.6 270.3,163.8 271.2,163.2 272.0,164.1 272.9,163.6 273.7,162.1 274.5,163.1 275.4,162.6 276.2,162.0 277.1,162.2 277.9,162.1 278.8,161.8 279.6,161.6 280.5,161.4 281.3,160.9 282.2,160.1 283.0,160.5 283.9,159.8 284.7,160.0 285.6,159.8 286.4,159.7 287.3,160.0 288.1,159.5 289.0,159.4 289.8,159.9 290.6,159.0 291.5,158.9 292.3,158.9 293.2,159.2 294.0,160.0 294.9,158.1 295.7,158.7 296.6,159.5 297.4,158.2 298.3,158.8 299.1,158.1 300.0,158.4 300.8,157.8 301.7,158.2 302.5,158.1 303.4,158.2 304.2,157.7 305.1,158.8 305.9,157.7 306.7,158.0 307.6,158.5 308.4,158.3 309.3,158.6 310.1,158.4 311.0,158.1 311.8,158.8 312.7,158.3 313.5,158.3 314.4,158.5 315.2,158.2 316.1,159.0 316.9,158.8 317.8,158.1 318.6,159.3 319.5,159.6 320.3,159.6 321.2,159.5 322.0,160.2 322.9,160.2 323.7,161.0 324.5,160.9 325.4,161.0 326.2,161.3 327.1,161.1 327.9,160.8 328.8,161.5 329.6,162.1 330.5,161.6 331.3,161.8 332.2,162.7 333.0,162.2 333.9,163.0 334.7,163.0 335.6,163.3 336.4,162.8 337.3,163.7 338.1,163.7 339.0,163.7 339.8,163.5 340.6,163.7 341.5,164.9 342.3,164.1 343.2,164.7 344.0,164.6 344.9,164.8 345.7,165.7 346.6,165.7 347.4,166.1 348.3,166.0 349.1,165.6 350.0,166.5 350.8,167.0 351.7,165.8 352.5,167.6 353.4,167.3 354.2,167.5 355.1,168.3 355.9,167.6 356.7,167.6 357.6,168.3 358.4,168.4 359.3,168.7 360.1,169.6 361.0,168.9 361.8,169.7 362.7,169.7 363.5,169.3 364.4,169.2 365.2,170.1 366.1,169.4 366.9,169.3 367.8,170.1 368.6,170.4 369.5,170.4 370.3,170.8 371.2,171.1 372.0,170.5 372.8,170.6 373.7,171.3 374.5,171.3 375.4,171.5 376.2,171.7 377.1,171.9 377.9,172.2 378.8,171.3 379.6,171.9 380.5,171.8 381.3,171.1 382.2,172.2 383.0,171.8 383.9,172.7 384.7,172.5 385.6,172.0 386.4,172.5 387.3,173.0 388.1,173.2 389.0,172.4 389.8,173.0 390.6,172.4 391.5,172.6 392.3,172.9 393.2,172.8 394.0,172.5 394.7,172.9 395.0,172.9 395.0,207.0" fill="rgb(50,205,50)" fill-opacity="0.20"/>
<polyline points="223.7,172.9 224.5,172.7 225.4,172.7 226.2,172.3 227.1,171.3 227.9,172.6 228.8,171.4 229.6,171.1 230.5,171.8 231.3,171.8 232.2,171.2 233.0,170.8 233.9,170.3 234.7,170.7 235.6,170.3 236.4,171.1 237.3,171.1 238.1,171.4 239.0,171.0 239.8,170.5 240.6,170.2 241.5,170.7 242.3,169.6 243.2,169.9 244.0,169.9 244.9,169.9 245.7,168.5 246.6,169.1 247.4,169.4 248.3,169.3 249.1,167.9 250.0,168.8 250.8,167.8 251.7,167.5 252.5,169.0 253.4,167.2 254.2,167.7 255.1,167.9 255.9,167.5 256.8,166.8 257.6,166.7 258.4,166.4 259.3,166.7 260.1,165.7 261.0,165.3 261.8,165.0 262.7,165.1 263.5,164.5 264.4,164.2 265.2,164.6 266.1,164.3 266.9,164.3 267.8,164.1 268.6,163.7 269.5,164.6 270.3,163.8 271.2,163.2 272.0,164.1 272.9,163.6 273.7,162.1 274.5,163.1 275.4,162.6 276.2,162.0 277.1,162.2 277.9,162.1 278.8,161.8 279.6,161.6 280.5,161.4 281.3,160.9 282.2,160.1 283.0,160.5 283.9,159.8 284.7,160.0 285.6,159.8 286.4,159.7 287.3,160.0 288.1,159.5 289.0,159.4 289.8,159.9 290.6,159.0 291.5,158.9 292.3,158.9 293.2,159.2 294.0,160.0 294.9,158.1 295.7,158.7 296.6,159.5 297.4,158.2 298.3,158.8 299.1,158.1 300.0,158.4 300.8,157.8 301.7,158.2 302.5,158.1 303.4,158.2 304.2,157.7 305.1,158.8 305.9,157.7 306.7,158.0 307.6,158.5 308.4,158.3 309.3,158.6 310.1,158.4 311.0,158.1 311.8,158.8 312.7,158.3 313.5,158.3 314.4,158.5 315.2,158.2 316.1,159.0 316.9,158.8 317.8,158.1 318.6,159.3 319.5,159.6 320.3,159.6 321.2,159.5 322.0,160.2 322.9,160.2 323.7,161.0 324.5,160.9 325.4,161.0 326.2,161.3 327.1,161.1 327.9,160.8 328.8,161.5 329.6,162.1 330.5,161.6 331.3,161.8 332.2,162.7 333.0,162.2 333.9,163.0 334.7,163.0 335.6,163.3 336.4,162.8 337.3,163.7 338.1,163.7 339.0,163.7 339.8,163.5 340.6,163.7 341.5,164.9 342.3,164.1 343.2,164.7 344.0,164.6 344.9,164.8 345.7,165.7 346.6,165.7 347.4,166.1 348.3,166.0 349.1,165.6 350.0,166.5 350.8,167.0 351.7,165.8 352.5,167.6 353.4,167.3 354.2,167.5 355.1,168.3 355.9,167.6 356.7,167.6 357.6,168.3 358.4,168.4 359.3,168.7 360.1,169.6 361.0,168.9 361.8,169.7 362.7,169.7 363.5,169.3 364.4,169.2 365.2,170.1 366.1,169.4 366.9,169.3 367.8,170.1 368.6,170.4 369.5,170.4 370.3,170.8 371.2,171.1 372.0,170.5 372.8,170.6 373.7,171.3 374.5,171.3 375.4,171.5 376.2,171.7 377.1,171.9 377.9,172.2 378.8,171.3 379.6,171.9 380.5,171.8 381.3,171.1 382.2,172.2 383.0,171.8 383.9,172.7 384.7,172.5 385.6,172.0 386.4,172.5 387.3,173.0 388.1,173.2 389.0,172.4 389.8,173.0 390.6,172.4 391.5,172.6 392.3,172.9 393.2,172.8 394.0,172.5 394.7,172.9" fill="none" stroke="rgb(40,150,70)" stroke-width="0.50" stroke-linejoin="miter"/>
<polyline points="223.7,200.9 225.1,200.5 226.6,200.1 228.0,199.7 229.4,199.2 230.9,198.7 232.3,198.2 233.8,197.7 235.2,197.2 236.6,196.6 238.1,196.0 239.5,195.4 240.9,194.8 242.4,194.2 243.8,193.5 245.3,192.8 246.7,192.1 248.1,191.3 249.6,190.6 251.0,189.8 252.4,189.0 253.9,188.2 255.3,187.4 256.8,186.6 258.2,185.7 259.6,184.9 261.1,184.0 262.5,183.1 263.9,182.3 265.4,181.4 266.8,180.5 268.2,179.7 269.7,178.8 271.1,178.0 272.6,177.1 274.0,176.3 275.4,175.5 276.9,174.7 278.3,173.9 279.7,173.2 281.2,172.5 282.6,171.8 284.1,171.1 285.5,170.5 286.9,169.9 288.4,169.4 289.8,168.9 291.2,168.5 292.7,168.1 294.1,167.7 295.5,167.4 297.0,167.2 298.4,167.0 299.9,166.9 301.3,166.8 302.7,166.8 304.2,166.8 305.6,166.9 307.0,167.0 308.5,167.2 309.9,167.4 311.4,167.7 312.8,167.9 314.2,168.2 315.7,168.6 317.1,169.0 318.5,169.4 320.0,169.8 321.4,170.3 322.9,170.8 324.3,171.3 325.7,171.9 327.2,172.5 328.6,173.1 330.0,173.7 331.5,174.3 332.9,175.0 334.3,175.7 335.8,176.4 337.2,177.1 338.7,177.8 340.1,178.5 341.5,179.2 343.0,180.0 344.4,180.7 345.8,181.4 347.3,182.2 348.7,182.9 350.2,183.7 351.6,184.4 353.0,185.1 354.5,185.9 355.9,186.6 357.3,187.3 358.8,188.0 360.2,188.7 361.6,189.4 363.1,190.1 364.5,190.7 366.0,191.4 367.4,192.0 368.8,192.6 370.3,193.2 371.7,193.8 373.1,194.4 374.6,194.9 376.0,195.5 377.5,196.0 378.9,196.5 380.3,197.0 381.8,197.5 383.2,197.9 384.6,198.4 386.1,198.8 387.5,199.2 389.0,199.6 390.4,199.9 391.8,200.3 393.3,200.6 394.7,201.0" fill="none" stroke="#111" stroke-width="1.35"/>
<g stroke="#666" stroke-width="1" fill="none">
<path d="M223.5 207.0V18.5H394.5V142.9"/>
</g>
<g stroke="#555" stroke-width="0.8" fill="none">
<path d="M223.5 175.47h4.7M394.5 175.47h-4.7"/>
<path d="M223.5 144.13h4.7M394.5 144.13h-4.7"/>
<path d="M223.5 112.80h4.7M394.5 112.80h-4.7"/>
<path d="M223.5 81.47h4.7M394.5 81.47h-4.7"/>
<path d="M223.5 50.13h4.7M394.5 50.13h-4.7"/>
</g>
<g stroke="#3c3c3c" stroke-width="1" fill="none">
<path d="M248.5 18.5v4.7M248.5 206.5v-4.7"/>
<path d="M300.5 18.5v4.7M300.5 206.5v-4.7"/>
<path d="M352.5 18.5v4.7M352.5 206.5v-4.7"/>
</g>
<text x="35.0" y="211.2" text-anchor="end">0</text>
<text x="35.0" y="179.9" text-anchor="end">1</text>
<text x="35.0" y="148.5" text-anchor="end">2</text>
<text x="35.0" y="117.2" text-anchor="end">3</text>
<text x="35.0" y="85.9" text-anchor="end">4</text>
<text x="35.0" y="54.5" text-anchor="end">5</text>
<text x="35.0" y="23.2" text-anchor="end">6</text>
<text x="66.6" y="224.0" text-anchor="middle">760</text>
<text x="118.6" y="224.0" text-anchor="middle">800</text>
<text x="170.6" y="224.0" text-anchor="middle">840</text>
<text x="126.2" y="243.7" text-anchor="middle" font-size="11.25">λ (a.u.)</text>
<text x="249.3" y="224.0" text-anchor="middle">760</text>
<text x="301.5" y="224.0" text-anchor="middle">800</text>
<text x="353.6" y="224.0" text-anchor="middle">840</text>
<text x="309.2" y="243.7" text-anchor="middle" font-size="11.25">λ (a.u.)</text>
<text transform="translate(14.8,112) rotate(-90)" text-anchor="middle" font-size="11.2">I(λ) (a.u.)</text>
<text x="52.7" y="13.2">σ<tspan dy="2.7" font-size="8.7">g</tspan><tspan dy="-2.7"> = 3885</tspan></text>
<text x="156.3" y="13.3">P<tspan dy="2.7" font-size="8.7">c</tspan><tspan dy="-2.7">(N)=1.60(2); N=150</tspan></text>
<text x="326.5" y="13.2">σ<tspan dy="2.7" font-size="8.7">g</tspan><tspan dy="-2.7"> = 243</tspan></text>
<text x="43.2" y="32.7">4.472</text>
<rect x="76.1" y="25.2" width="29.6" height="6.5" fill="rgb(255,65,160)" fill-opacity="0.20" stroke="none"/>
<rect x="76.1" y="25.2" width="29.6" height="6.5" fill="none" stroke="rgb(255,65,160)" stroke-opacity="0.70" stroke-width="0.8"/>
<text x="43.2" y="45.8">1.630</text>
<rect x="76.1" y="38.3" width="29.6" height="6.5" fill="rgb(0,0,255)" fill-opacity="0.17" stroke="none"/>
<rect x="76.1" y="38.3" width="29.6" height="6.5" fill="none" stroke="rgb(0,0,255)" stroke-opacity="0.50" stroke-width="0.8"/>
<text x="115.4" y="32.7">1.593</text>
<rect x="147.4" y="25.2" width="29.6" height="6.5" fill="rgb(50,205,50)" fill-opacity="0.20" stroke="none"/>
<rect x="147.4" y="25.2" width="29.6" height="6.5" fill="none" stroke="rgb(50,205,50)" stroke-opacity="0.70" stroke-width="0.8"/>
<text x="226.0" y="32.7">4.472</text>
<rect x="259.2" y="25.2" width="29.6" height="6.5" fill="rgb(255,65,160)" fill-opacity="0.20" stroke="none"/>
<rect x="259.2" y="25.2" width="29.6" height="6.5" fill="none" stroke="rgb(255,65,160)" stroke-opacity="0.70" stroke-width="0.8"/>
<text x="226.0" y="45.8">1.630</text>
<rect x="259.2" y="38.3" width="29.6" height="6.5" fill="rgb(0,0,255)" fill-opacity="0.17" stroke="none"/>
<rect x="259.2" y="38.3" width="29.6" height="6.5" fill="none" stroke="rgb(0,0,255)" stroke-opacity="0.50" stroke-width="0.8"/>
<text x="298.3" y="32.7">1.310</text>
<rect x="330.3" y="25.2" width="29.6" height="6.5" fill="rgb(50,205,50)" fill-opacity="0.20" stroke="none"/>
<rect x="330.3" y="25.2" width="29.6" height="6.5" fill="none" stroke="rgb(50,205,50)" stroke-opacity="0.70" stroke-width="0.8"/>
<text x="333.8" y="52.8">g(λ)</text>
<path d="M358.4 49.2H388.8" stroke="#111" stroke-width="1.35" fill="none"/>
</svg>
</body></html>
